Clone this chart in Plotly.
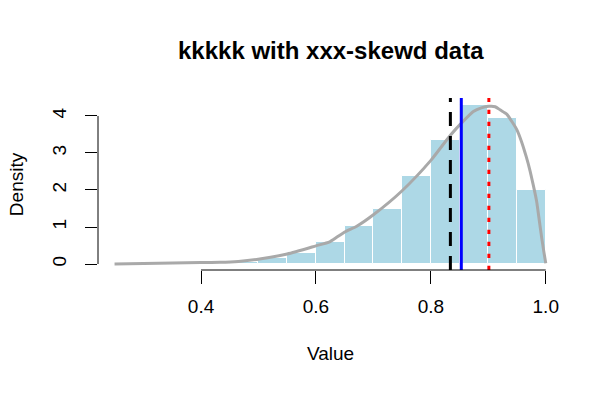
import plotly.graph_objects as go

# ---- data ----
bin_left = [0.25, 0.30, 0.35, 0.40, 0.45, 0.50, 0.55, 0.60, 0.65, 0.70, 0.75, 0.80, 0.85, 0.90, 0.95]
bin_density = [0.01, 0.01, 0.02, 0.02, 0.05, 0.15, 0.30, 0.59, 1.03, 1.49, 2.38, 3.35, 4.30, 3.95, 2.00]
bin_width = 0.05

curve_x = [0.2495, 0.30, 0.351, 0.40, 0.433, 0.465, 0.502, 0.550, 0.600, 0.624, 0.636, 0.651,
           0.671, 0.700, 0.750, 0.800, 0.834, 0.854, 0.874, 0.888, 0.901, 0.912, 0.921, 0.932,
           0.941, 0.950, 0.958, 0.966, 0.972, 0.978, 0.984, 0.989, 0.993, 0.997, 1.0]
curve_y = [0.0, 0.012, 0.027, 0.038, 0.045, 0.07, 0.135, 0.27, 0.49, 0.60, 0.72, 0.87,
           1.02, 1.33, 1.98, 2.80, 3.48, 3.82, 4.12, 4.22, 4.26, 4.25, 4.16, 4.05,
           3.85, 3.62, 3.30, 2.90, 2.56, 2.15, 1.70, 1.15, 0.70, 0.30, 0.02]

mean_val = 0.834
median_val = 0.853
mode_val = 0.901

x_ticks = [0.4, 0.6, 0.8, 1.0]
x_tick_labels = ["0.4", "0.6", "0.8", "1.0"]
y_ticks = [0, 1, 2, 3, 4]
y_tick_labels = ["0", "1", "2", "3", "4"]

title_text = "kkkkk with xxx-skewd data"
x_title = "Value"
y_title = "Density"

FONT = "Liberation Sans, Arial, sans-serif"

fig = go.Figure()
fig.add_trace(go.Bar(
    x=[b + bin_width / 2 for b in bin_left], y=bin_density, width=bin_width,
    marker=dict(color="#ADD8E6", line=dict(color="white", width=1)),
    hoverinfo="skip", showlegend=False))
fig.add_trace(go.Scatter(
    x=curve_x, y=curve_y, mode="lines", line=dict(color="#A9A9A9", width=3, shape="spline", smoothing=0.6),
    showlegend=False))

# vertical reference lines
fig.add_shape(type="line", xref="x", yref="paper", x0=mean_val, x1=mean_val, y0=0, y1=1,
              line=dict(color="black", width=3, dash="14px,10px"), layer="above")
fig.add_shape(type="line", xref="x", yref="paper", x0=median_val, x1=median_val, y0=0, y1=1,
              line=dict(color="blue", width=3), layer="above")
fig.add_shape(type="line", xref="x", yref="paper", x0=mode_val, x1=mode_val, y0=0, y1=1,
              line=dict(color="red", width=3, dash="4.3px,7.7px"), layer="above")

# partial axis lines (R style)
fig.add_shape(type="line", xref="x", yref="paper", x0=x_ticks[0], x1=x_ticks[-1], y0=0, y1=0,
              line=dict(color="black", width=1), layer="above")
fig.add_shape(type="line", xref="paper", yref="y", x0=0, x1=0, y0=y_ticks[0], y1=y_ticks[-1],
              line=dict(color="black", width=1), layer="above")

fig.update_layout(
    width=613, height=393,
    margin=dict(l=98, r=50, t=98, b=123, autoexpand=False),
    paper_bgcolor="white", plot_bgcolor="white",
    font=dict(family=FONT, size=19, color="black"),
    bargap=0,
    xaxis=dict(range=[0.2207, 1.030], tickvals=x_ticks, ticktext=x_tick_labels,
               showgrid=False, zeroline=False, showline=False, automargin=False,
               ticks="outside", ticklen=13, tickcolor="black", tickwidth=1,
               ticklabelstandoff=6, tickfont=dict(size=19, family=FONT)),
    yaxis=dict(range=[-0.162, 4.486], tickvals=y_ticks, ticktext=y_tick_labels,
               showgrid=False, zeroline=False, showline=False, automargin=False,
               ticks="outside", ticklen=12, tickcolor="black", tickwidth=1,
               tickangle=-90, ticklabelstandoff=11, tickfont=dict(size=19, family=FONT)),
    annotations=[
        dict(text="<b>" + title_text + "</b>", xref="paper", yref="paper", x=0.5, y=1.279,
             xanchor="center", yanchor="middle", showarrow=False, font=dict(size=24, family=FONT)),
        dict(text=x_title, xref="paper", yref="paper", x=0.5, y=-0.488,
             xanchor="center", yanchor="middle", showarrow=False, font=dict(size=19, family=FONT)),
        dict(text=y_title, xref="paper", yref="paper", x=-0.176, y=0.5, textangle=-90,
             xanchor="center", yanchor="middle", showarrow=False, font=dict(size=19, family=FONT)),
    ],
)

fig.write_html("out.html", config={"displayModeBar": False},
               post_script="document.body.style.margin='0px';")
